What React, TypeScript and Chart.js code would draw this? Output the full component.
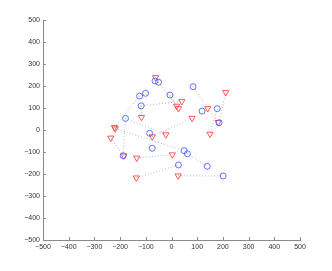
import React, { useEffect, useRef } from "react";
import { Chart, registerables } from "chart.js";

Chart.register(...registerables);

// Blue circles
const circleX = [-64, -50, -101, -124, -6, 84, -118, 119, 178, 185, -179, -85, -75, 49, 62, -188, 27, 139, 201];
const circleY = [223, 217, 167, 154, 159, 197, 110, 86, 97, 33, 53, -15, -83, -94, -108, -117, -159, -165, -209];

// Red down-triangles
const triX = [-62, 40, 20, 27, 141, 211, 182, -117, 80, -222, -219, -75, -22, 150, -236, -185, -135, 3, -137, 26];
const triY = [239, 130, 109, 98, 98, 171, 35, 58, 54, 12, 6, -30, -21, -18, -36, -117, -127, -112, -217, -208];

// Dotted connections: [x1, y1, x2, y2]
const edges = [
  [-50, 217, 20, 109],
  [-6, 159, 20, 109],
  [-118, 110, 40, 130],
  [-118, 110, -117, 58],
  [-222, 12, -124, 154],
  [-124, 154, -101, 167],
  [-179, 53, -188, -117],
  [-179, 53, -22, -21],
  [-219, 6, 49, -94],
  [62, -108, 139, -165],
  [-236, -36, -188, -117],
  [-135, -127, 3, -112],
  [-137, -217, 27, -159],
  [26, -208, 201, -209],
  [-75, -30, 80, 54],
  [-85, -15, -75, -30],
  [84, 197, 141, 98],
  [141, 98, 182, 35],
  [178, 97, 150, -18],
  [211, 171, 185, 33],
];

const axisMin = -500;
const axisMax = 500;
const tickStep = 100;

const fmt = (v: number) => (v < 0 ? "\u2212" + Math.abs(v) : String(v));

const inwardTicks = {
  id: "inwardTicks",
  afterDraw(chart: any) {
    const { ctx, chartArea, scales } = chart;
    ctx.save();
    ctx.strokeStyle = "#8a8a8a";
    ctx.lineWidth = 1;
    const len = 3;
    scales.x.ticks.forEach((t: any) => {
      const px = Math.round(scales.x.getPixelForValue(t.value)) + 0.5;
      ctx.beginPath();
      ctx.moveTo(px, chartArea.bottom);
      ctx.lineTo(px, chartArea.bottom - len);
      ctx.stroke();
    });
    scales.y.ticks.forEach((t: any) => {
      const py = Math.round(scales.y.getPixelForValue(t.value)) + 0.5;
      ctx.beginPath();
      ctx.moveTo(chartArea.left, py);
      ctx.lineTo(chartArea.left + len, py);
      ctx.stroke();
    });
    ctx.restore();
  },
};

export default function App() {
  const ref = useRef<HTMLCanvasElement | null>(null);

  useEffect(() => {
    if (!ref.current) return;
    const lineSets = edges.map((e) => ({
      type: "line" as const,
      data: [
        { x: e[0], y: e[1] },
        { x: e[2], y: e[3] },
      ],
      borderColor: "rgba(160,160,160,0.75)",
      borderWidth: 1,
      borderDash: [1, 2],
      pointRadius: 0,
      fill: false,
      order: 2,
    }));
    const chart = new Chart(ref.current, {
      type: "scatter",
      data: {
        datasets: [
          {
            data: circleX.map((x, i) => ({ x, y: circleY[i] })),
            pointStyle: "circle",
            pointRadius: 3,
            borderColor: "rgba(70,90,255,0.85)",
            backgroundColor: "rgba(0,0,0,0)",
            borderWidth: 1,
            order: 0,
          },
          {
            data: triX.map((x, i) => ({ x, y: triY[i] })),
            pointStyle: "triangle",
            rotation: 180,
            pointRadius: 3.6,
            borderColor: "rgba(255,60,60,0.85)",
            backgroundColor: "rgba(0,0,0,0)",
            borderWidth: 1,
            order: 1,
          },
          ...lineSets,
        ] as any,
      },
      options: {
        responsive: false,
        animation: false,
        devicePixelRatio: 1,
        layout: { padding: { left: 0, right: 32, top: 20, bottom: 0 } },
        plugins: { legend: { display: false }, tooltip: { enabled: false } },
        scales: {
          x: {
            type: "linear",
            min: axisMin,
            max: axisMax,
            afterFit: (s: any) => {
              s.height = 31;
            },
            ticks: {
              stepSize: tickStep,
              padding: 3,
              color: "#333",
              font: { family: "Liberation Sans", size: 7 },
              callback: (v: any) => fmt(Number(v)),
              maxRotation: 0,
              autoSkip: false,
            },
            grid: { display: true, drawOnChartArea: false, drawTicks: false },
            border: { display: true, color: "#8a8a8a", width: 1 },
          },
          y: {
            type: "linear",
            min: axisMin,
            max: axisMax,
            afterFit: (s: any) => {
              s.width = 43;
            },
            ticks: {
              stepSize: tickStep,
              padding: 3,
              color: "#333",
              font: { family: "Liberation Sans", size: 7 },
              callback: (v: any) => fmt(Number(v)),
              autoSkip: false,
            },
            grid: { display: true, drawOnChartArea: false, drawTicks: false },
            border: { display: true, color: "#8a8a8a", width: 1 },
          },
        },
      },
      plugins: [inwardTicks],
    });
    return () => chart.destroy();
  }, []);

  return (
    <div style={{ position: "absolute", left: 0, top: 0, width: 332, height: 271, background: "#fff" }}>
      <canvas ref={ref} width={332} height={271} style={{ display: "block" }} />
    </div>
  );
}
